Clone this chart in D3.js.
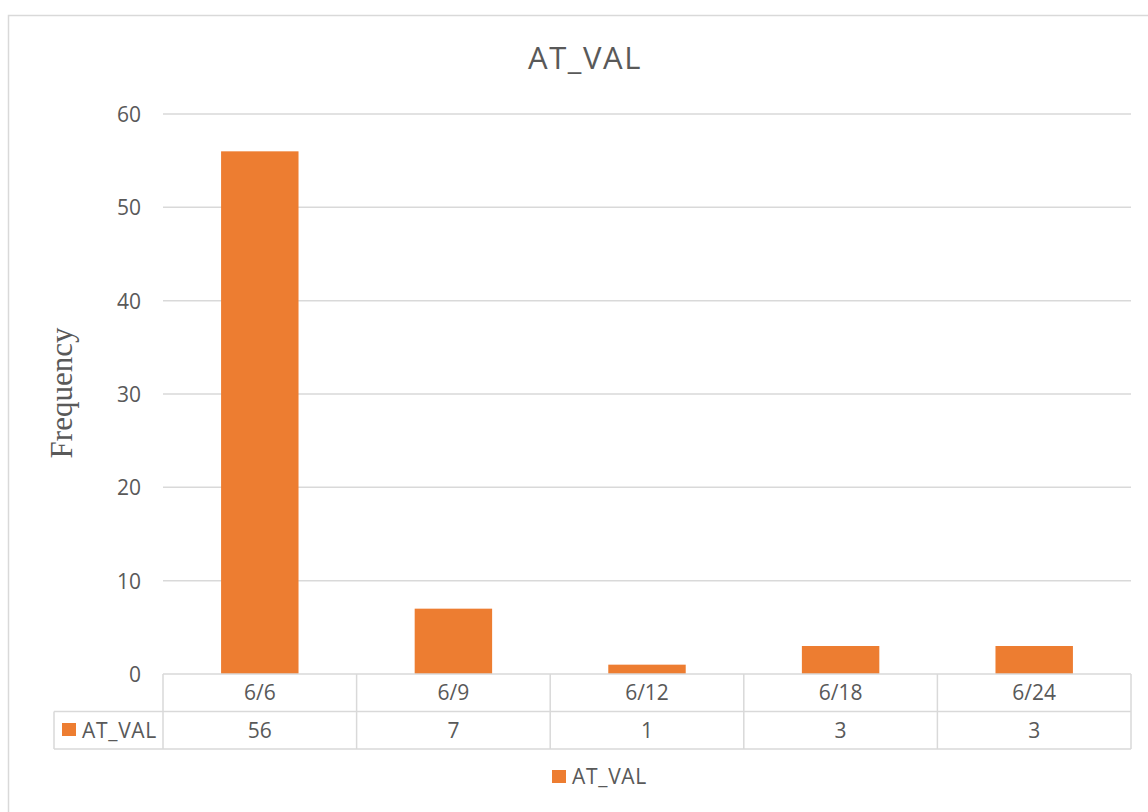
<!DOCTYPE html>
<html><head><meta charset="utf-8">
<script src="https://cdn.jsdelivr.net/npm/d3@7"></script>
<style>body{margin:0;background:#fff}svg{display:block}</style>
</head><body>
<script>
const categories = ["6/6","6/9","6/12","6/18","6/24"];
const values = [56,7,1,3,3];
const seriesName = "AT_VAL";
const yTicks = [0,10,20,30,40,50,60];

const W=1148,H=812;
const svg=d3.select("body").append("svg").attr("width",W).attr("height",H);
const font="'Open Sans', sans-serif";
const txt="#595959", grid="#d9d9d9", bar="#ED7D31";

// outer border
svg.append("rect").attr("x",8.5).attr("y",15.5).attr("width",W+20).attr("height",H+20)
  .attr("fill","none").attr("stroke",grid).attr("stroke-width",1.5);

const L=163,R=1131,T=114,B=674;
const y=d3.scaleLinear().domain([0,60]).range([B,T]);
const x=d3.scaleBand().domain(categories).range([L,R]);
const band=x.bandwidth();

// gridlines
svg.append("g").selectAll("line").data(yTicks.filter(d=>d>0)).join("line")
  .attr("x1",L).attr("x2",R).attr("y1",d=>y(d)).attr("y2",d=>y(d))
  .attr("stroke",grid).attr("stroke-width",1.5);

// y axis labels
const yAxis=d3.axisLeft(y).tickValues(yTicks).tickSize(0).tickPadding(22);
const ga=svg.append("g").attr("transform",`translate(${L},0)`).call(yAxis);
ga.select(".domain").remove();
ga.selectAll("text").attr("font-family",font).attr("font-size",21).attr("fill",txt).attr("dy","0.35em");

// bars
const bw=band*0.4;
svg.append("g").selectAll("rect").data(values).join("rect")
  .attr("x",(d,i)=>x(categories[i])+band/2-bw/2).attr("width",bw)
  .attr("y",d=>y(d)).attr("height",d=>B-y(d)).attr("fill",bar);

// data table
const rowH=37.5, r1=B, r2=B+rowH, r3=B+2*rowH;
const tg=svg.append("g").attr("stroke",grid).attr("stroke-width",1.5).attr("fill","none");
tg.append("line").attr("x1",L).attr("x2",R).attr("y1",r1).attr("y2",r1);
tg.append("line").attr("x1",54).attr("x2",R).attr("y1",r2).attr("y2",r2);
tg.append("line").attr("x1",54).attr("x2",R).attr("y1",r3).attr("y2",r3);
tg.append("line").attr("x1",54).attr("x2",54).attr("y1",r2).attr("y2",r3);
tg.selectAll(".v").data(d3.range(categories.length+1)).join("line")
  .attr("x1",i=>L+band*i).attr("x2",i=>L+band*i).attr("y1",r1).attr("y2",r3);

svg.append("g").selectAll("text").data(categories).join("text")
  .attr("x",d=>x(d)+band/2).attr("y",r1+rowH/2).attr("dy","0.35em")
  .attr("text-anchor","middle").attr("font-family",font).attr("font-size",21).attr("fill",txt).text(d=>d);
svg.append("g").selectAll("text").data(values).join("text")
  .attr("x",(d,i)=>x(categories[i])+band/2).attr("y",r2+rowH/2).attr("dy","0.35em")
  .attr("text-anchor","middle").attr("font-family",font).attr("font-size",21).attr("fill",txt).text(d=>d);
svg.append("rect").attr("x",62).attr("y",723).attr("width",14).attr("height",13).attr("fill",bar);
svg.append("text").attr("x",82).attr("y",r2+rowH/2).attr("dy","0.35em")
  .attr("font-family",font).attr("font-size",21).attr("letter-spacing",0.7).attr("fill",txt).text(seriesName);

// title
svg.append("text").attr("x",585).attr("y",58).attr("dy","0.35em").attr("text-anchor","middle")
  .attr("font-family",font).attr("font-size",31).attr("letter-spacing",1.6).attr("fill",txt).text(seriesName);

// y axis title
svg.append("text").attr("transform","translate(72,393) rotate(-90)").attr("text-anchor","middle")
  .attr("font-family","'Liberation Serif', serif").attr("font-size",31).attr("fill",txt).text("Frequency");

// legend
svg.append("rect").attr("x",552).attr("y",770).attr("width",14).attr("height",13).attr("fill",bar);
svg.append("text").attr("x",572).attr("y",777).attr("dy","0.35em")
  .attr("font-family",font).attr("font-size",21).attr("letter-spacing",0.7).attr("fill",txt).text(seriesName);
</script>
</body></html>
